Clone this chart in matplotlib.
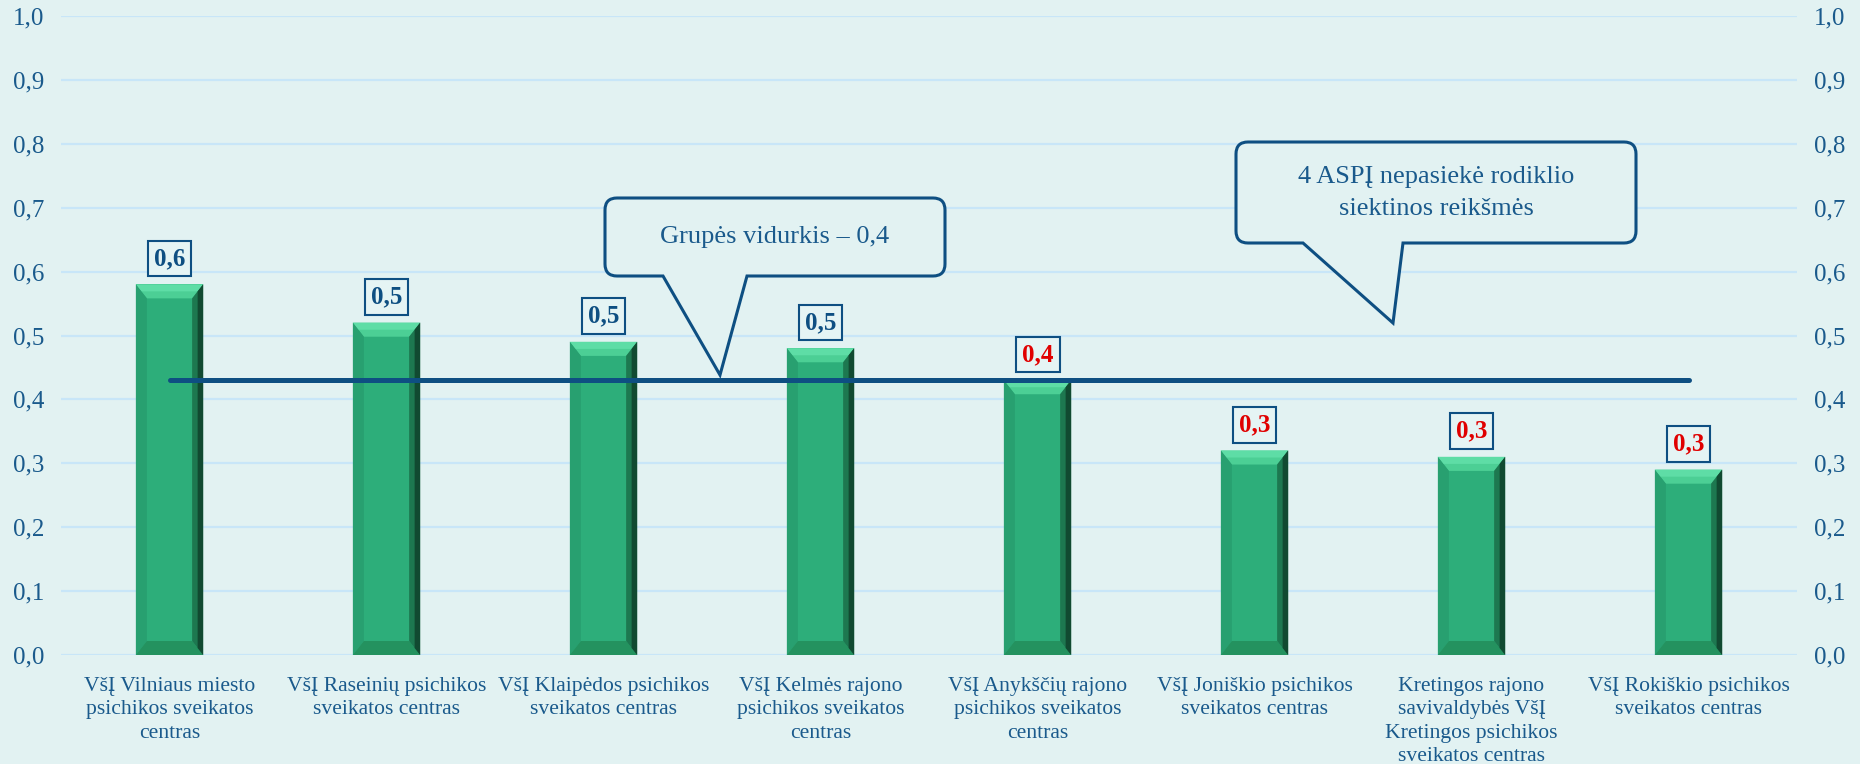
import numpy as np
import matplotlib
matplotlib.use("Agg")
import matplotlib.pyplot as plt
from matplotlib.path import Path
from matplotlib.patches import PathPatch, Polygon

plt.rcParams['font.family'] = ['Liberation Serif', 'DejaVu Serif']

# data
categories = [
    "VšĮ Vilniaus miesto\npsichikos sveikatos\ncentras",
    "VšĮ Raseinių psichikos\nsveikatos centras",
    "VšĮ Klaipėdos psichikos\nsveikatos centras",
    "VšĮ Kelmės rajono\npsichikos sveikatos\ncentras",
    "VšĮ Anykščių rajono\npsichikos sveikatos\ncentras",
    "VšĮ Joniškio psichikos\nsveikatos centras",
    "Kretingos rajono\nsavivaldybės VšĮ\nKretingos psichikos\nsveikatos centras",
    "VšĮ Rokiškio psichikos\nsveikatos centras",
]
values = [0.58, 0.52, 0.49, 0.48, 0.43, 0.32, 0.31, 0.29]
value_labels = ["0,6", "0,5", "0,5", "0,5", "0,4", "0,3", "0,3", "0,3"]
below_target = [False, False, False, False, True, True, True, True]
group_avg = 0.43
yticks = [0.0, 0.1, 0.2, 0.3, 0.4, 0.5, 0.6, 0.7, 0.8, 0.9, 1.0]

bg = '#E2F2F2'
grid_c = '#C8E6F8'
blue = '#0E4F82'
txt_blue = '#1A5A8C'
red = '#E00000'
green = '#2DAE7A'

W, H = 1860, 764
fig = plt.figure(figsize=(W / 100, H / 100), dpi=100, facecolor=bg)
ax = fig.add_axes([61 / W, 1 - 655 / H, (1797 - 61) / W, (655 - 16) / H])
ax.set_facecolor(bg)

x = np.arange(len(categories))
bw = 0.31
bars = ax.bar(x, values, width=bw, color=green, zorder=2)

# bevel effect on each bar
bx = 11 / 217.0
by = 14 / 639.0
for b in bars:
    x0 = b.get_x()
    x1 = x0 + b.get_width()
    h = b.get_height()
    ax.add_patch(Polygon([(x0, h), (x1, h), (x1 - bx, h - by), (x0 + bx, h - by)],
                         closed=True, color='#4CCF95', lw=0, zorder=3))
    ax.add_patch(Polygon([(x0, h), (x0 + bx * 0.5, h - by * 0.5), (x1 - bx * 0.5, h - by * 0.5), (x1, h)],
                         closed=True, color='#5EDDA6', lw=0, zorder=3))
    ax.add_patch(Polygon([(x0, h), (x0 + bx, h - by), (x0 + bx, by), (x0, 0)],
                         closed=True, color='#28A070', lw=0, zorder=3))
    ax.add_patch(Polygon([(x0, 0), (x0 + bx, by), (x1 - bx, by), (x1, 0)],
                         closed=True, color='#24925F', lw=0, zorder=3))
    ax.add_patch(Polygon([(x1, h), (x1, 0), (x1 - bx, by), (x1 - bx, h - by)],
                         closed=True, color='#1D7850', lw=0, zorder=3))
    ax.add_patch(Polygon([(x1, h), (x1, 0), (x1 - bx * 0.5, by * 0.5), (x1 - bx * 0.5, h - by * 0.5)],
                         closed=True, color='#114A31', lw=0, zorder=3))

# group average line
ax.plot([x[0], x[-1]], [group_avg, group_avg], color=blue, lw=3.6,
        solid_capstyle='round', zorder=4)

# value labels
for xi, v, lab, red_flag in zip(x, values, value_labels, below_target):
    ax.annotate(lab, (xi, v), xytext=(0, 18.5), textcoords='offset points',
                ha='center', va='center', fontsize=18, fontweight='bold',
                color=red if red_flag else blue, zorder=6,
                bbox=dict(boxstyle='square,pad=0.25', fc='#E5F4F4', ec=blue, lw=1.5))

ax.set_xlim(-0.5, len(categories) - 0.5)
ax.set_ylim(0, 1.0)
ax.set_yticks(yticks)
ax.set_yticklabels([f"{t:.1f}".replace('.', ',') for t in yticks])
ax.set_xticks(x)
ax.set_xticklabels(categories, fontsize=15.6, color=txt_blue, linespacing=1.3)
ax.tick_params(axis='x', length=0, pad=16)
ax.tick_params(axis='y', length=0, pad=12, labelsize=18, labelcolor=txt_blue,
               labelleft=True, labelright=True)
ax.grid(axis='y', color=grid_c, lw=1.6)
ax.set_axisbelow(True)
for s in ax.spines.values():
    s.set_visible(False)


def callout(L, T, R, B, p0, p1, tip, r=12):
    pts = [(L + r, T), (R - r, T), (R, T), (R, T + r), (R, B - r), (R, B), (R - r, B),
           (p1, B), tip, (p0, B), (L + r, B), (L, B), (L, B - r), (L, T + r), (L, T),
           (L + r, T), (L + r, T)]
    codes = [Path.MOVETO, Path.LINETO, Path.CURVE3, Path.CURVE3, Path.LINETO,
             Path.CURVE3, Path.CURVE3, Path.LINETO, Path.LINETO, Path.LINETO,
             Path.LINETO, Path.CURVE3, Path.CURVE3, Path.LINETO, Path.CURVE3,
             Path.CURVE3, Path.CLOSEPOLY]
    verts = [(px / W, 1 - py / H) for px, py in pts]
    fig.patches.append(PathPatch(Path(verts, codes), transform=fig.transFigure,
                                 fc=bg, ec=blue, lw=2.2, zorder=10))


callout(605, 198, 945, 276, 663, 747, (720, 375))
fig.text(775 / W, 1 - 237 / H, "Grupės vidurkis – 0,4", ha='center', va='center',
         fontsize=19, color=txt_blue, zorder=11)

callout(1236, 142, 1636, 243, 1303, 1403, (1393, 323))
fig.text(1436 / W, 1 - 193 / H, "4 ASPĮ nepasiekė rodiklio\nsiektinos reikšmės",
         ha='center', va='center', fontsize=19, color=txt_blue, linespacing=1.6,
         zorder=11)

fig.savefig('out.png', dpi=100, facecolor=bg)
